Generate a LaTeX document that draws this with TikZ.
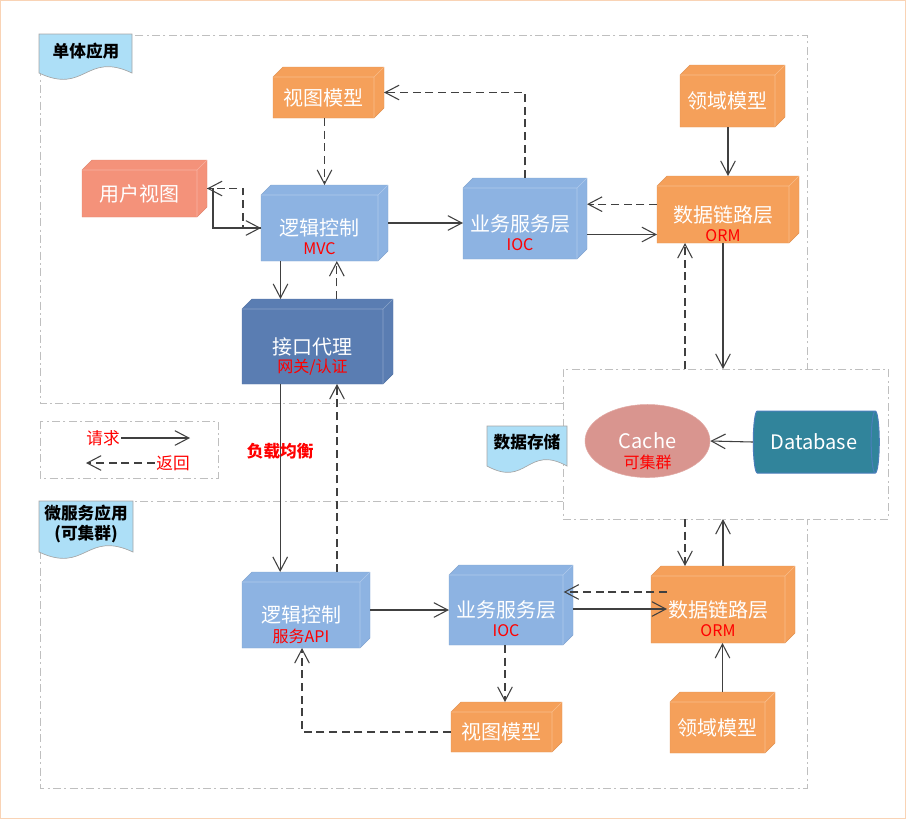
\documentclass[tikz,border=0pt]{standalone}
\usepackage{fontspec}
\setmainfont{Noto Sans CJK SC}
\usetikzlibrary{shapes.geometric, arrows.meta, calc}

\definecolor{orangebox}{HTML}{F5A05A}
\definecolor{salmonbox}{HTML}{F4927A}
\definecolor{bluebox}{HTML}{8DB3E2}
\definecolor{gatebox}{HTML}{5A7DB2}
\definecolor{cachebox}{HTML}{D9958F}
\definecolor{dbbox}{HTML}{31849B}
\definecolor{dbline}{HTML}{4A7EBB}
\definecolor{tagblue}{HTML}{ADDFF7}
\definecolor{framegray}{HTML}{BFBFBF}
\definecolor{peachline}{HTML}{F9D3B5}
\definecolor{linegray}{HTML}{404040}

\tikzstyle{line} = [draw=linegray, line width=0.8pt, -{Straight Barb[length=10.5pt,width=11pt]}]
\tikzstyle{dashline} = [line, dash pattern=on 6pt off 3.5pt]
\tikzstyle{grp} = [draw=framegray, line width=0.75pt, dash pattern=on 6pt off 2.5pt on 1.5pt off 2.5pt]
\tikzstyle{boxarea} = [rectangle, inner sep=0, outer sep=0]
\tikzstyle{maintext} = [inner sep=0, text=white, font=\fontsize{15}{18}\selectfont]
\tikzstyle{subtext} = [inner sep=0, text=red, font=\fontsize{12}{14}\selectfont]
\tikzstyle{tagtext} = [inner sep=0, align=center, font=\fontsize{12.5}{15}\selectfont\bfseries]
\tikzstyle{legtext} = [inner sep=1pt, text=red, font=\fontsize{12.5}{15}\selectfont]
\tikzstyle{lbtext} = [inner sep=0, text=red, font=\fontsize{12.5}{15}\selectfont\bfseries]

% 3d box: name, x0, y0, x1, y1, colour, text, red text
\newcommand\cubebox[8]{%
  \filldraw[fill=#6, draw=#6!92!black, line width=0.3pt]
    (#2+10,#3) -- (#4,#3) -- (#4,#5-10) -- (#4-10,#5) -- (#2,#5) -- (#2,#3+10) -- cycle;
  \draw[white, opacity=0.3, line width=0.5pt]
    (#2,#3+10) -- (#4-10,#3+10) -- (#4-10,#5) (#4-10,#3+10) -- (#4,#3);
  \node[boxarea, minimum width={(#4-#2)*0.75pt}, minimum height={(#5-#3)*0.75pt}] (#1) at ({(#2+#4)/2},{(#3+#5)/2}) {};
  \node[maintext] (#1-t) at ({(#2+#4-10)/2},{(#3+#5+10)/2}) {#7};
  \node[subtext] (#1-s) at ($(#1-t)+(0,21)$) {#8};
}
% document tag: x0, y0, x1, y bottom
\newcommand\tagshape[4]{%
  \filldraw[fill=tagblue, draw=gray!70, line width=0.5pt]
    (#1,#2) -- (#3,#2) -- (#3,#4) .. controls ({(#1+#3)/2},#4-22) and ({(#1+#3)/2},#4+22) .. (#1,#4) -- cycle;
}

\begin{document}
\begin{tikzpicture}[x=0.75pt, y=-0.75pt]
\useasboundingbox (0,0) rectangle (906,819);
\draw[peachline, line width=0.75pt] (0.5,0.5) rectangle (905.5,818.5);

% groups
\draw[grp] (40,35) rectangle (807,403);
\draw[grp] (40,501) rectangle (807,788);
\draw[grp] (40,421) rectangle (218,478);
\node[grp, fill=white, boxarea, minimum width=243.75pt, minimum height=112.5pt] (store) at (725.5,444) {};

\tagshape{39}{34}{132}{73}
\node[tagtext] (tagA) at (86,51) {单体应用};
\tagshape{39}{501}{133}{552}
\node[tagtext] (tagB) at (86,524) {微服务应用\\(可集群)};
\tagshape{487}{426}{567}{466}
\node[tagtext] (tagC) at (527,442) {数据存储};

% single app
\cubebox{vmA}{273}{67}{384}{118}{orangebox}{视图模型}{}
\cubebox{dmA}{680}{65}{785}{127}{orangebox}{领域模型}{}
\cubebox{uv}{82}{160}{207}{217}{salmonbox}{用户视图}{}
\cubebox{lcA}{261}{185}{388}{261}{bluebox}{逻辑控制}{MVC}
\cubebox{bsA}{463}{178}{587}{259}{bluebox}{业务服务层}{IOC}
\cubebox{dlA}{657}{176}{799}{243}{orangebox}{数据链路层}{ORM}
\cubebox{gw}{242}{299}{393}{384}{gatebox}{接口代理}{网关/认证}

% micro services
\cubebox{lcB}{242}{572}{370}{648}{bluebox}{逻辑控制}{服务API}
\cubebox{bsB}{449}{565}{573}{645}{bluebox}{业务服务层}{IOC}
\cubebox{dlB}{651}{566}{795}{643}{orangebox}{数据链路层}{ORM}
\cubebox{vmB}{451}{702}{562}{752}{orangebox}{视图模型}{}
\cubebox{dmB}{670}{692}{775}{753}{orangebox}{领域模型}{}

% storage
\node[ellipse, fill=cachebox, draw=cachebox!80!white, minimum width=93.75pt, minimum height=54.75pt, inner sep=0, text=white, font=\fontsize{15}{18}\selectfont] (cache) at (647.5,441) {Cache};
\node[subtext] (cache-s) at ($(cache)+(0,21)$) {可集群};
\node[cylinder, shape aspect=0.5, draw=dbline, line width=0.75pt, cylinder uses custom fill, cylinder body fill=dbbox, cylinder end fill=dbbox, minimum height=94.5pt, minimum width=46.5pt, inner sep=0, text=white, font=\fontsize{15}{18}\selectfont] (db) at (814,442) {Database};

% legend
\node[legtext] (rq) at (103,438) {请求};
\node[legtext] (rt) at (173,463) {返回};
\coordinate (rqend) at (190,438);
\coordinate (rtend) at (86,463);
\draw[line] (rq.east) -- (rqend);
\draw[dashline] (rt.west) -- (rtend);

% connectors, top
\draw[dashline] (vmA.south -| lcA) -- (lcA.north);
\draw[dashline] (bsA.north) |- (vmA.east);
\draw[line] (dmA.south -| dlA) -- (dlA.north);
\draw[line] (lcA.east) -- (lcA.east -| bsA.west);
\draw[line] ([yshift=-12pt]bsA.east) -- ([yshift=-12pt]bsA.east -| dlA.west);
\draw[dashline] ([yshift=4pt]dlA.west) -- ([yshift=4pt]dlA.west -| bsA.east);
\draw[line] (uv.east) -- ++(6,0) |- ([yshift=-3.75pt]lcA.west);
\draw[dashline] ([yshift=-3.75pt]lcA.west) -- ++(-18,0) |- (uv.east);
\draw[line] ([xshift=-33pt]lcA.south) -- ([xshift=-33pt]lcA.south |- gw.north);
\draw[dashline] ([xshift=14.5pt]gw.north) -- ([xshift=14.5pt]gw.north |- lcA.south);
\draw[line] ([xshift=-28pt]gw.south) -- node[lbtext, pos=0.36] (lb) {负载均衡} ([xshift=-28pt]gw.south |- lcB.north);
\draw[dashline] ([xshift=23.25pt]lcB.north) -- ([xshift=23.25pt]lcB.north |- gw.south);
\draw[line] ([xshift=-3.75pt]dlA.south) -- ([xshift=-3.75pt]dlA.south |- store.north);
\draw[dashline] ([xshift=-32.25pt]dlA.south |- store.north) -- ([xshift=-32.25pt]dlA.south);
\draw[line] (db.west) -- (cache.east);

% connectors, bottom
\draw[dashline] ([xshift=-28.5pt]dlB.north |- store.south) -- ([xshift=-28.5pt]dlB.north);
\draw[line] (dlB.north) -- (dlB.north |- store.south);
\draw[line] (lcB.east) -- (lcB.east -| bsB.west);
\draw[line] ([yshift=-3pt]bsB.east) -- ([yshift=-3pt, xshift=12pt]bsB.east -| dlB.west);
\draw[dashline] ([xshift=12pt,yshift=9.4pt]dlB.west) -- ([yshift=9.4pt,xshift=-7pt]dlB.west -| bsB.east);
\draw[dashline] ([xshift=-4.5pt]bsB.south) -- ([xshift=-4.5pt]bsB.south |- vmB.north);
\draw[dashline] ([yshift=-3.75pt]vmB.west) -| ([xshift=-3pt]lcB.south);
\draw[line] (dmB.north) -- (dmB.north |- dlB.south);
\end{tikzpicture}
\end{document}
